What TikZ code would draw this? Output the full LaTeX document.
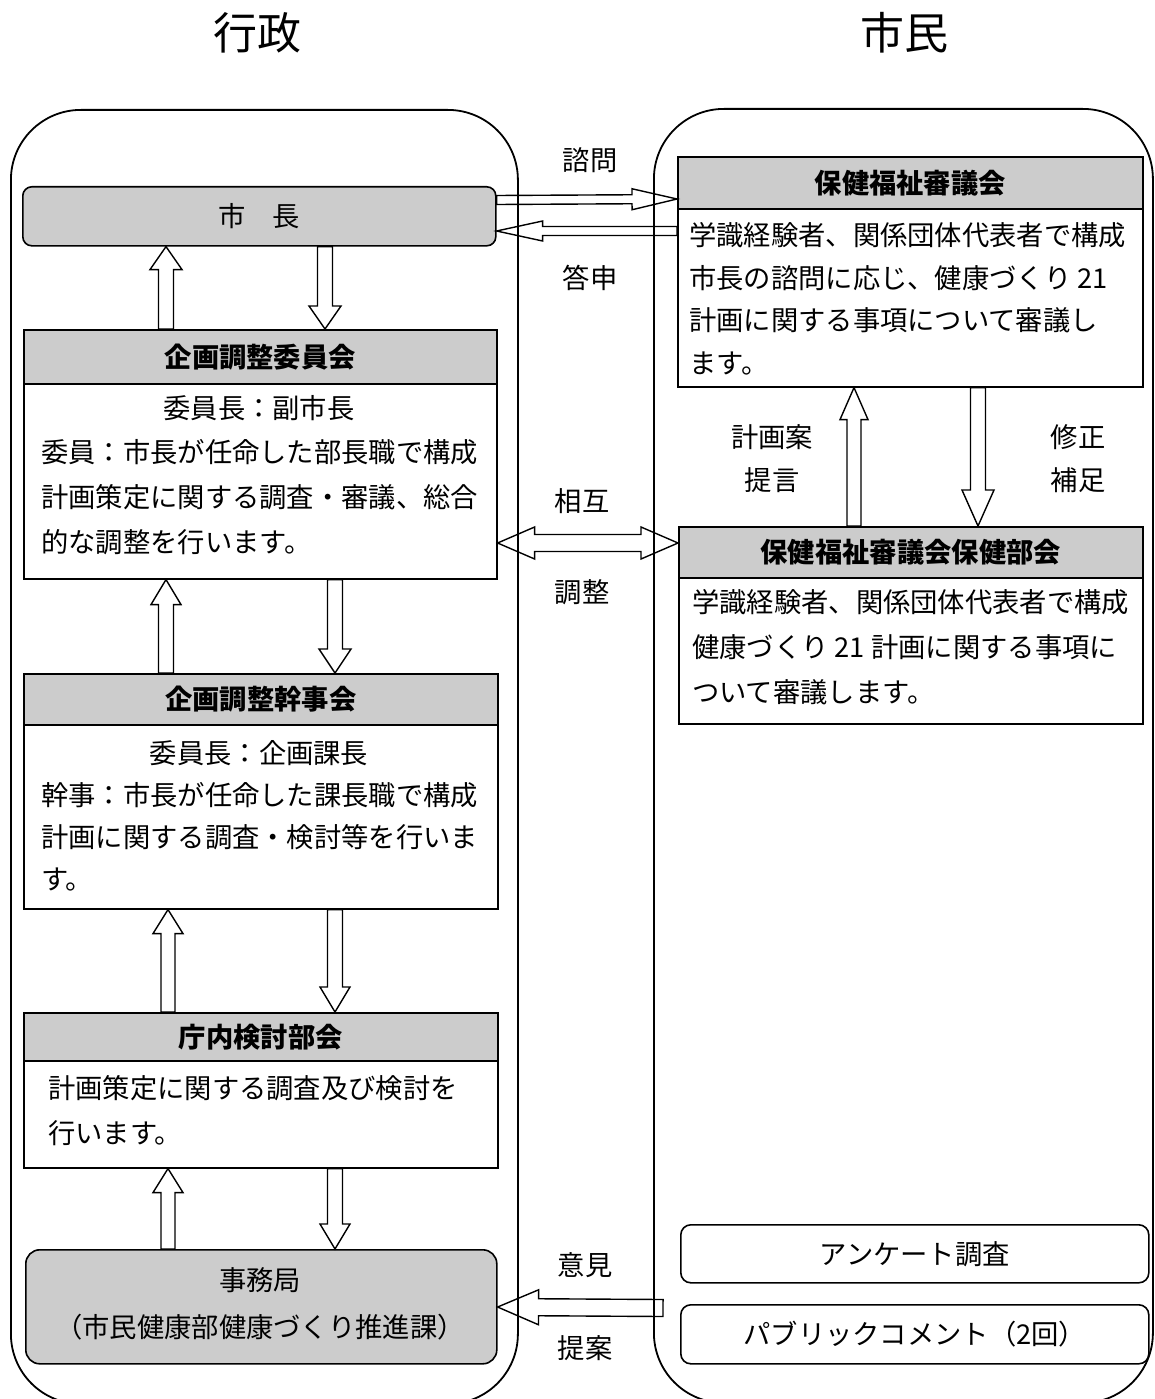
\documentclass[tikz,border=0pt]{standalone}
\usepackage{fontspec}
\newfontfamily\jp{Noto Sans CJK JP}
\usetikzlibrary{calc}
\newcommand\hollowarrow[5]{%
  \coordinate (ha) at #1;
  \coordinate (ht) at #2;
  \coordinate (hb) at ($(ht)!#5!(ha)$);
  \draw[arrline] ($(ha)!#3!90:(ht)$) -- ($(hb)!#3!90:(ht)$) -- ($(hb)!#4!90:(ht)$) -- (ht)
    -- ($(hb)!#4!-90:(ht)$) -- ($(hb)!#3!-90:(ht)$) -- ($(ha)!#3!-90:(ht)$) -- cycle;}
\newcommand\doublearrow[5]{%
  \coordinate (dl) at #1;
  \coordinate (dr) at #2;
  \coordinate (hl) at ($(dl)!#5!(dr)$);
  \coordinate (hr) at ($(dr)!#5!(dl)$);
  \draw[arrline] (dl) -- ($(hl)!#4!90:(dr)$) -- ($(hl)!#3!90:(dr)$) -- ($(hr)!#3!-90:(dl)$)
    -- ($(hr)!#4!-90:(dl)$) -- (dr) -- ($(hr)!#4!90:(dl)$) -- ($(hr)!#3!90:(dl)$)
    -- ($(hl)!#3!-90:(dr)$) -- ($(hl)!#4!-90:(dr)$) -- cycle;}
\begin{document}
\begin{tikzpicture}[x=1pt,y=-1pt,
  txt/.style={font=\jp\fontsize{27.3pt}{30pt}\selectfont, inner sep=0pt},
  title/.style={font=\jp\fontsize{44pt}{48pt}\selectfont, inner sep=0pt},
  outer/.style={draw, line width=1.8pt, rounded corners=70pt, inner sep=0pt, anchor=north west},
  box/.style={draw, line width=1.6pt, inner sep=0pt, anchor=north west},
  hdr/.style={box, fill=black!20, font=\jp\bfseries\fontsize{27.3pt}{30pt}\selectfont},
  rbox/.style={box, rounded corners=10pt},
  gbox/.style={rbox, fill=black!20},
  arrline/.style={draw, line width=1.4pt, line join=miter}]
\useasboundingbox (0,0) rectangle (1155,1399);
\fill[white] (0,0) rectangle (1155,1399);
% titles
\node[title] (tgyosei) at (257,33) {行政};
\node[title] (tshimin) at (904,33) {市民};
% outer frames
\node[outer, minimum width=507pt, minimum height=1294pt] (gyosei) at (10,109) {};
\node[outer, minimum width=499pt, minimum height=1294pt] (shimin) at (653,108) {};
% left column
\node[gbox, rounded corners=9pt, minimum width=473pt, minimum height=59pt, txt] (shicho) at (22,186) {市　長};
\node[hdr, minimum width=473pt, minimum height=54pt] (iinh) at (23,329) {企画調整委員会};
\node[box, minimum width=473pt, minimum height=195pt] (iinb) at (23,383) {};
\node[txt] (iin1) at (259,408) {委員長：副市長};
\node[txt, anchor=west] (iin2) at (41,452) {委員：市長が任命した部長職で構成};
\node[txt, anchor=west] (iin3) at (41,497) {計画策定に関する調査・審議、総合};
\node[txt, anchor=west] (iin4) at (41,542) {的な調整を行います。};
\node[hdr, minimum width=474pt, minimum height=51pt] (kanh) at (23,673) {企画調整幹事会};
\node[box, minimum width=474pt, minimum height=184pt] (kanb) at (23,724) {};
\node[txt] (kan1) at (259,753) {委員長：企画課長};
\node[txt, anchor=west] (kan2) at (41,795) {幹事：市長が任命した課長職で構成};
\node[txt, anchor=west] (kan3) at (41,837) {計画に関する調査・検討等を行いま};
\node[txt, anchor=west] (kan4) at (41,880) {す。};
\node[hdr, minimum width=474pt, minimum height=48pt] (choh) at (23,1012) {庁内検討部会};
\node[box, minimum width=474pt, minimum height=107pt] (chob) at (23,1060) {};
\node[txt, anchor=west] (cho1) at (48,1088) {計画策定に関する調査及び検討を};
\node[txt, anchor=west] (cho2) at (48,1133) {行います。};
\node[gbox, rounded corners=14pt, minimum width=471pt, minimum height=114pt] (jimu) at (25,1249) {};
\node[txt] (jimu1) at (260,1280) {事務局};
\node[txt] (jimu2) at (260,1327) {（市民健康部健康づくり推進課）};
% right column
\node[hdr, minimum width=465pt, minimum height=52pt] (shih) at (677,156) {保健福祉審議会};
\node[box, minimum width=465pt, minimum height=178pt] (shib) at (677,208) {};
\node[txt, anchor=west] (shi1) at (689,235) {学識経験者、関係団体代表者で構成};
\node[txt, anchor=west] (shi2) at (689,278) {市長の諮問に応じ、健康づくり 21};
\node[txt, anchor=west] (shi3) at (689,320) {計画に関する事項について審議し};
\node[txt, anchor=west] (shi4) at (689,363) {ます。};
\node[hdr, minimum width=464pt, minimum height=51pt] (buh) at (678,526) {保健福祉審議会保健部会};
\node[box, minimum width=464pt, minimum height=146pt] (bub) at (678,577) {};
\node[txt, anchor=west] (bu1) at (692,602) {学識経験者、関係団体代表者で構成};
\node[txt, anchor=west] (bu2) at (692,647) {健康づくり 21 計画に関する事項に};
\node[txt, anchor=west] (bu3) at (692,692) {ついて審議します。};
\node[rbox, minimum width=468pt, minimum height=58pt, txt] (anq) at (680,1224) {アンケート調査};
\node[rbox, minimum width=468pt, minimum height=59pt, txt] (pub) at (680,1304) {パブリックコメント（2回）};
% labels
\node[txt] (lshimon) at (590,160) {諮問};
\node[txt] (ltoshin) at (590,278) {答申};
\node[txt] (lsogo) at (582,501) {相互};
\node[txt] (lchosei) at (582,592) {調整};
\node[txt] (lkeikaku) at (772,437) {計画案};
\node[txt] (lteigen) at (772,480) {提言};
\node[txt] (lshusei) at (1078,437) {修正};
\node[txt] (lhosoku) at (1078,480) {補足};
\node[txt] (liken) at (585,1265) {意見};
\node[txt] (lteian) at (585,1348) {提案};
% arrows
\hollowarrow{(shicho.east |- 0,200)}{(shih.west |- 0,199)}{4.5pt}{10.5pt}{45pt}
\hollowarrow{(shib.west |- 0,231)}{(shicho.east |- 0,231)}{4.5pt}{10pt}{46pt}
\hollowarrow{(iinh.north -| 166,0)}{(shicho.south -| 166,0)}{7.5pt}{16pt}{23pt}
\hollowarrow{(shicho.south -| 325,0)}{(iinh.north -| 325,0)}{7.5pt}{16pt}{23pt}
\hollowarrow{(kanh.north -| 166,0)}{(iinb.south -| 166,0)}{7.5pt}{15pt}{25pt}
\hollowarrow{(iinb.south -| 335,0)}{(kanh.north -| 335,0)}{7.5pt}{16pt}{24pt}
\hollowarrow{(choh.north -| 168,0)}{(kanb.south -| 168,0)}{7pt}{15pt}{24pt}
\hollowarrow{(kanb.south -| 335,0)}{(choh.north -| 335,0)}{7.5pt}{15pt}{25pt}
\hollowarrow{(jimu.north -| 168,0)}{(chob.south -| 168,0)}{7pt}{15pt}{24pt}
\hollowarrow{(chob.south -| 335,0)}{(jimu.north -| 335,0)}{7.5pt}{15pt}{25pt}
\hollowarrow{(buh.north -| 854,0)}{(shib.south -| 854,0)}{7pt}{14pt}{32pt}
\hollowarrow{(shib.south -| 978,0)}{(buh.north -| 978,0)}{7.5pt}{16pt}{36pt}
\doublearrow{(iinb.east |- 0,543)}{(buh.west |- 0,543)}{8.5pt}{16pt}{37pt}
\coordinate (pubstart) at (663,1308);
\hollowarrow{(pubstart)}{(jimu.east |- 0,1307)}{8.5pt}{17.5pt}{41pt}
\end{tikzpicture}
\end{document}
